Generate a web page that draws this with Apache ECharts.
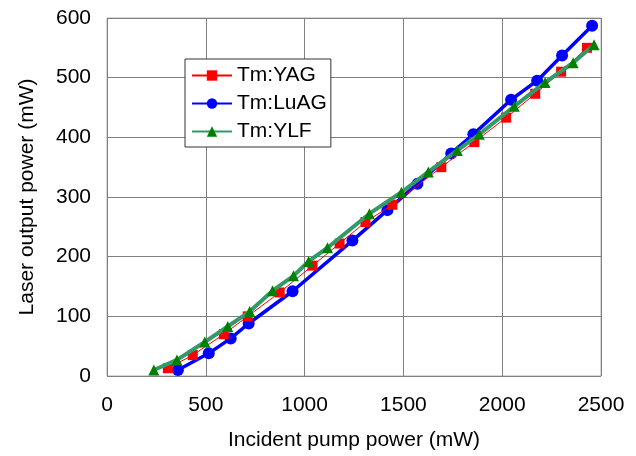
<!doctype html>
<html lang="en">
<head>
    <meta charset="UTF-8">
    <title>Laser output power</title>
    <script src="https://cdn.jsdelivr.net/npm/echarts@6/dist/echarts.min.js"></script>
    <style>
        html, body { margin: 0; padding: 0; background: #fff; }
        #chart { width: 636px; height: 456px; }
    </style>
</head>
<body>
<div id="chart"></div>
<script>
    // incident pump power (mW), output power (mW)
    var yagPump = [308, 434, 591, 712, 874, 1040, 1177, 1308, 1444, 1692, 1859, 2020, 2167, 2298, 2429];
    var yagOut = [13, 35, 70, 100, 140, 185, 222, 258, 287, 350, 392, 433, 473, 510, 550];

    var luagPump = [359, 515, 626, 717, 939, 1242, 1419, 1571, 1742, 1854, 2045, 2177, 2303, 2455];
    var luagOut = [10, 38, 63, 88, 142, 227, 278, 322, 373, 405, 463, 495, 537, 587];

    var ylfPump = [237, 354, 495, 611, 722, 838, 944, 1020, 1116, 1328, 1490, 1626, 1773, 1884, 2061, 2217, 2359, 2465];
    var ylfOut = [10, 27, 57, 83, 108, 143, 168, 192, 215, 272, 308, 342, 378, 405, 452, 492, 525, 555];

    function pairs(xs, ys) {
        return xs.map(function (x, i) { return [x, ys[i]]; });
    }

    var font = 'Liberation Sans, Arial, sans-serif';
    var fs = 21;
    var chart = echarts.init(document.getElementById('chart'), null, {renderer: 'canvas'});

    chart.setOption({
        animation: false,
        backgroundColor: '#fff',
        textStyle: {fontFamily: font, color: '#000'},
        grid: {left: 107, right: 35, top: 18, bottom: 78, show: true, borderColor: '#b0b0b0', borderWidth: 1},
        legend: {
            orient: 'vertical',
            left: 185, top: 59,
            padding: [6, 4, 5, 6],
            itemGap: 7,
            itemWidth: 40, itemHeight: 13,
            backgroundColor: '#fff',
            borderColor: '#333', borderWidth: 1,
            textStyle: {fontFamily: font, fontSize: fs, color: '#000'},
            data: ['Tm:YAG', 'Tm:LuAG', 'Tm:YLF']
        },
        xAxis: {
            type: 'value', min: 0, max: 2500, interval: 500,
            name: 'Incident pump power (mW)', nameLocation: 'middle', nameGap: 54,
            nameTextStyle: {fontFamily: font, fontSize: fs, color: '#000'},
            axisLine: {show: false}, axisTick: {show: false},
            axisLabel: {margin: 19, fontSize: fs, color: '#000', fontFamily: font,
                formatter: function (v) { return String(v); }},
            splitLine: {lineStyle: {color: '#808080', width: 1}}
        },
        yAxis: {
            type: 'value', min: 0, max: 600, interval: 100,
            name: 'Laser output power (mW)', nameLocation: 'middle', nameGap: 69,
            nameTextStyle: {fontFamily: font, fontSize: fs, color: '#000'},
            axisLine: {show: false}, axisTick: {show: false},
            axisLabel: {margin: 16, fontSize: fs, color: '#000', fontFamily: font},
            splitLine: {lineStyle: {color: '#808080', width: 1}}
        },
        series: [
            {
                name: 'Tm:YAG', type: 'line', data: pairs(yagPump, yagOut), z: 3,
                symbol: 'rect', symbolSize: 10,
                itemStyle: {color: '#ff0000'},
                lineStyle: {color: '#ff0000', width: 1}
            },
            {
                name: 'Tm:LuAG', type: 'line', data: pairs(luagPump, luagOut), z: 2,
                symbol: 'circle', symbolSize: 12,
                itemStyle: {color: '#0000ff'},
                lineStyle: {color: '#0000ff', width: 3.5}
            },
            {
                name: 'Tm:YLF', type: 'line', data: pairs(ylfPump, ylfOut), z: 4,
                symbol: 'triangle', symbolSize: 11,
                itemStyle: {color: '#008000'},
                lineStyle: {color: '#339966', width: 4}
            }
        ]
    });
</script>
</body>
</html>
